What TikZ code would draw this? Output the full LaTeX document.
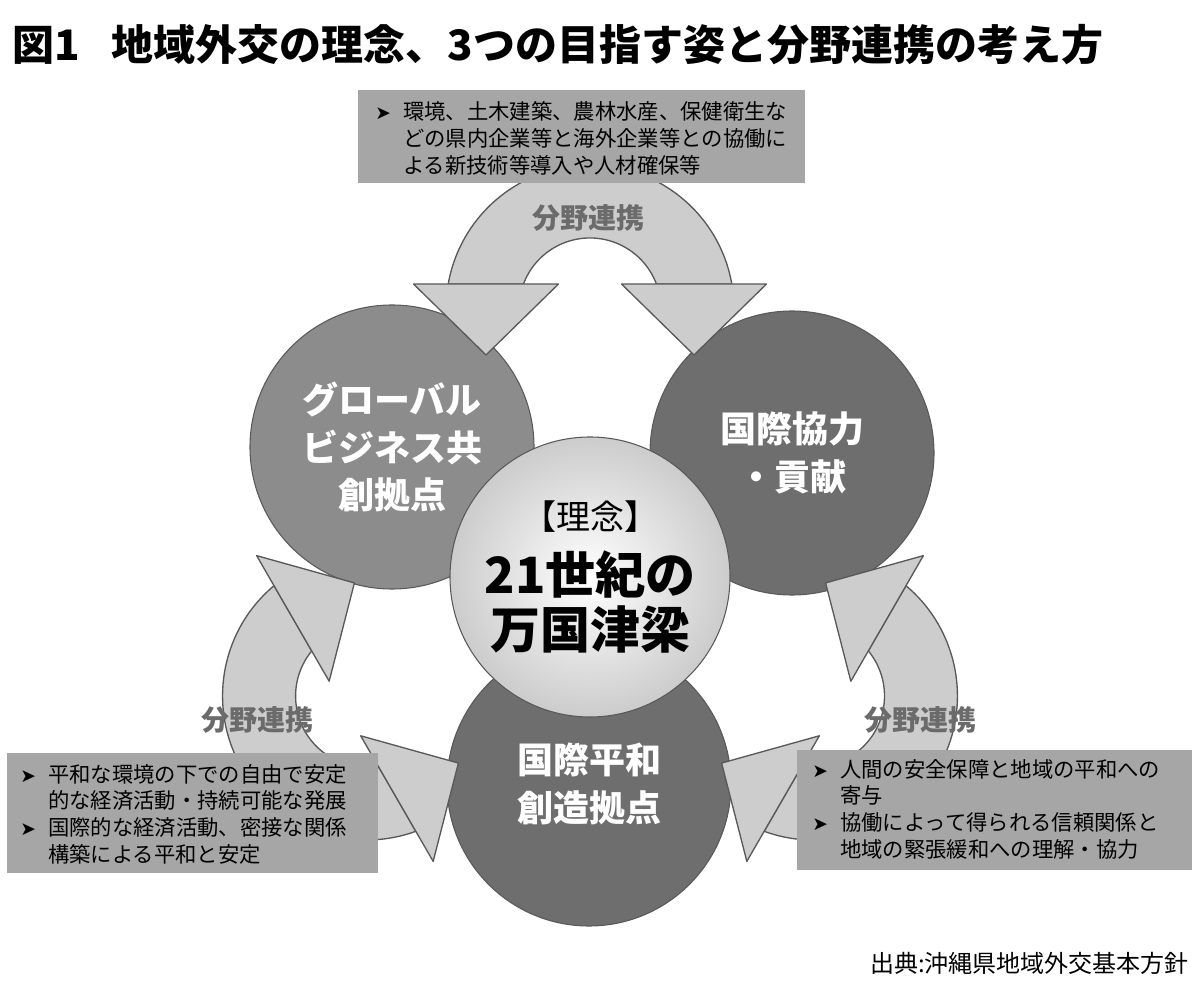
\documentclass[tikz,border=0pt]{standalone}
\usepackage{fontspec}
\setmainfont{Noto Sans CJK JP}
\newfontfamily\symfont{DejaVu Sans}

\definecolor{panelgray}{HTML}{A6A6A6}
\definecolor{arrowgray}{HTML}{CDCDCD}
\definecolor{edgegray}{HTML}{595959}
\definecolor{goalmid}{HTML}{8C8C8C}
\definecolor{goaldark}{HTML}{6E6E6E}
\definecolor{labelgray}{HTML}{6B6B6B}

\newcommand{\bulletmark}{\makebox[21pt][l]{\symfont\fontsize{14}{14}\selectfont ➤}}
\newcommand{\hangmark}{\hspace*{21pt}}

\begin{document}
\begin{tikzpicture}[x=0.75pt, y=-0.75pt,
    goal/.style={circle, draw=edgegray, line width=0.8pt, minimum size=213pt,
      inner sep=0pt, align=center, text=white,
      font=\bfseries\fontsize{27}{35.5}\selectfont},
    core/.style={circle, draw=edgegray, line width=0.8pt, minimum size=210pt,
      inner sep=0pt, align=center, inner color=white, outer color=black!20,
      font=\bfseries\fontsize{37.5}{41}\selectfont},
    band/.style={fill=arrowgray, draw=edgegray, line width=1pt, line join=round},
    panel/.style={fill=panelgray, inner sep=0pt, anchor=north west},
    paneltext/.style={anchor=west, inner sep=0pt, align=left,
      font=\fontsize{16}{20}\selectfont},
    linklabel/.style={text=labelgray, inner sep=0pt,
      font=\bfseries\fontsize{21}{21}\selectfont}]
  \useasboundingbox (0,0) rectangle (1200,994);

  % the three goals and the ideal
  \node[goal, fill=goalmid] (global) at (392,447) {グローバル\\ビジネス共\\創拠点};
  \node[goal, fill=goaldark] (cooperation) at (792,453) {国際協力\\・貢献};
  \node[goal, fill=goaldark] (peace) at (589,784) {国際平和\\創造拠点};
  \node[core] (ideal) at (590,577)
    {{\mdseries\fontsize{25.5}{30}\selectfont 【理念】}\\[7pt]21世紀の\\万国津梁};

  % curved arrows with two heads
  \foreach \turn in {0,120,-120}{
    \begin{scope}[shift={(590,567)}, yscale=-1, rotate=\turn]
      \draw[band] (0,258) ++(10:144) arc[start angle=10, end angle=170, radius=144]
        -- ++(75.3,0) arc[start angle=159.4, end angle=20.6, radius=71] -- cycle;
      \draw[band] (-176.5,283) -- (-31.5,283) -- (-104,212) -- cycle;
      \draw[band] (31.5,283) -- (176.5,283) -- (104,212) -- cycle;
    \end{scope}
  }

  % text panels
  \node[panel, minimum width=335.25pt, minimum height=69.75pt] (toppanel) at (358,90) {};
  \node[panel, minimum width=278.25pt, minimum height=90pt] (leftpanel) at (7,753) {};
  \node[panel, minimum width=296.25pt, minimum height=90pt] (rightpanel) at (797,750) {};

  \node[paneltext] (toptext) at (375,138.5)
    {\bulletmark 環境、土木建築、農林水産、保健衛生な\\
     \hangmark どの県内企業等と海外企業等との協働に\\
     \hangmark よる新技術等導入や人材確保等};
  \node[paneltext] (lefttext) at (20,814)
    {\bulletmark 平和な環境の下での自由で安定\\
     \hangmark 的な経済活動・持続可能な発展\\
     \bulletmark 国際的な経済活動、密接な関係\\
     \hangmark 構築による平和と安定};
  \node[paneltext] (righttext) at (812,809)
    {\bulletmark 人間の安全保障と地域の平和への\\
     \hangmark 寄与\\
     \bulletmark 協働によって得られる信頼関係と\\
     \hangmark 地域の緊張緩和への理解・協力};

  \node[linklabel] (linktop) at (588,218) {分野連携};
  \node[linklabel] (linkleft) at (257,720) {分野連携};
  \node[linklabel] (linkright) at (920,720) {分野連携};

  \node[anchor=west, inner sep=0pt, font=\bfseries\fontsize{31.5}{31.5}\selectfont]
    (title) at (12,45) {図1\hspace{24pt}地域外交の理念、3つの目指す姿と分野連携の考え方};
  \node[anchor=east, inner sep=0pt, font=\fontsize{18}{18}\selectfont]
    (source) at (1189,963) {出典:沖縄県地域外交基本方針};
\end{tikzpicture}
\end{document}
